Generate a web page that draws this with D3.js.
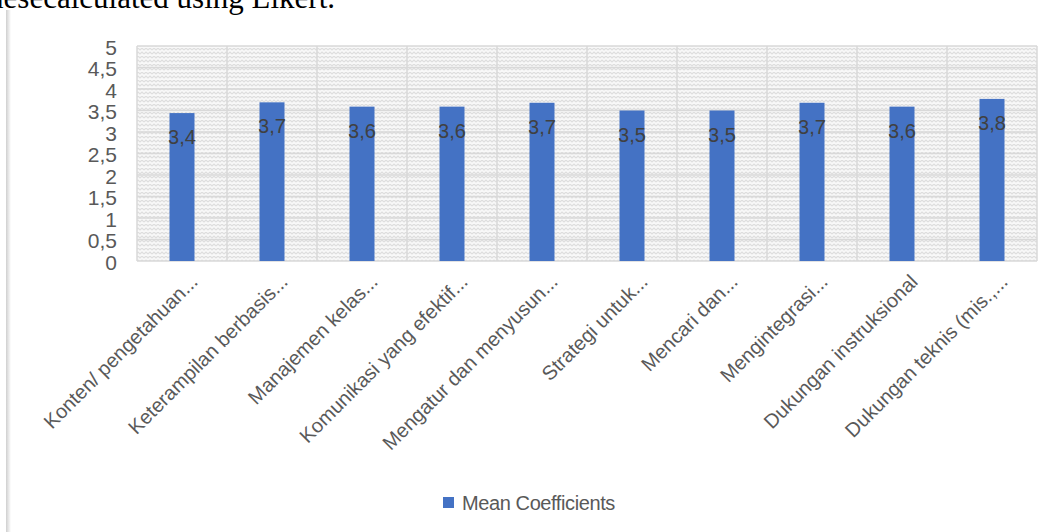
<!DOCTYPE html>
<html>
<head>
<meta charset="utf-8">
<script src="https://cdn.jsdelivr.net/npm/d3@7.9.0/dist/d3.min.js"></script>
<style>
  html, body { margin: 0; padding: 0; background: #fff; }
  svg { display: block; }
</style>
</head>
<body>
<svg id="chart" width="1051" height="532"></svg>
<script>
const categories = [
  'Konten/ pengetahuan...',
  'Keterampilan berbasis...',
  'Manajemen kelas...',
  'Komunikasi yang efektif...',
  'Mengatur dan menyusun...',
  'Strategi untuk...',
  'Mencari dan...',
  'Mengintegrasi...',
  'Dukungan instruksional',
  'Dukungan teknis (mis.,...'
];
const meanValues = [3.44, 3.69, 3.59, 3.59, 3.68, 3.5, 3.5, 3.68, 3.59, 3.77];
const yTicks = [0, 0.5, 1, 1.5, 2, 2.5, 3, 3.5, 4, 4.5, 5];
const seriesName = 'Mean Coefficients';

const svg = d3.select('#chart');
const plot = { left: 137, right: 1037, top: 46, bottom: 261 };

const x = d3.scaleBand().domain(categories).range([plot.left, plot.right]);
const y = d3.scaleLinear().domain([0, 5]).range([plot.bottom, plot.top]);
const comma = (v) => String(v).replace('.', ',');

// patterned plot background
const defs = svg.append('defs');
const pat = defs.append('pattern')
  .attr('id', 'weave')
  .attr('patternUnits', 'userSpaceOnUse')
  .attr('width', 8).attr('height', 8);
pat.append('rect').attr('width', 8).attr('height', 8).attr('fill', '#f8f8f8');
pat.append('path')
  .attr('d', 'M0,6 L2,4 L4,6 L6,4 L8,6 M0,2 L2,0 L4,2 L6,0 L8,2')
  .attr('fill', 'none').attr('stroke', '#dedede').attr('stroke-width', 1.2);

const grad = defs.append('linearGradient').attr('id', 'edge').attr('x1', 0).attr('x2', 1);
grad.append('stop').attr('offset', 0).attr('stop-color', '#cfcfcf');
grad.append('stop').attr('offset', 1).attr('stop-color', '#ffffff');

// page edge shadow on the left
svg.append('rect').attr('x', 6).attr('y', 10).attr('width', 5).attr('height', 522)
  .attr('fill', 'url(#edge)');

// cut-off text of the surrounding document
svg.append('text')
  .attr('x', 335).attr('y', 8)
  .attr('text-anchor', 'end')
  .attr('font-family', 'Liberation Serif')
  .attr('font-size', 31)
  .attr('fill', '#000')
  .text('Thesecalculated using Likert.');

svg.append('rect')
  .attr('x', plot.left).attr('y', plot.top)
  .attr('width', plot.right - plot.left).attr('height', plot.bottom - plot.top)
  .attr('fill', 'url(#weave)');

// grid
svg.append('g').selectAll('line').data(yTicks).join('line')
  .attr('x1', plot.left).attr('x2', plot.right)
  .attr('y1', (d) => y(d)).attr('y2', (d) => y(d))
  .attr('stroke', '#d9d9d9').attr('stroke-width', 1.5);

const bounds = categories.map((c) => x(c)).concat([plot.right]);
svg.append('g').selectAll('line').data(bounds).join('line')
  .attr('x1', (d) => d).attr('x2', (d) => d)
  .attr('y1', plot.top).attr('y2', plot.bottom)
  .attr('stroke', '#d9d9d9').attr('stroke-width', 1.5);

// y axis labels
svg.append('g').selectAll('text').data(yTicks).join('text')
  .attr('x', 117).attr('y', (d) => y(d) + 1)
  .attr('text-anchor', 'end')
  .attr('dominant-baseline', 'central')
  .attr('font-family', 'Liberation Sans')
  .attr('font-size', 21)
  .attr('fill', '#595959')
  .text((d) => comma(d));

// bars
const barW = 25;
svg.append('g').selectAll('rect').data(meanValues).join('rect')
  .attr('x', (d, i) => x(categories[i]) + x.bandwidth() / 2 - barW / 2)
  .attr('y', (d) => y(d))
  .attr('width', barW)
  .attr('height', (d) => y(0) - y(d))
  .attr('fill', '#4472c4');

// data labels
svg.append('g').selectAll('text').data(meanValues).join('text')
  .attr('x', (d, i) => x(categories[i]) + x.bandwidth() / 2)
  .attr('y', (d) => y(d) + 24)
  .attr('text-anchor', 'middle')
  .attr('dominant-baseline', 'central')
  .attr('font-family', 'Liberation Sans')
  .attr('font-size', 20)
  .attr('fill', '#404040')
  .text((d) => comma(d3.format('.1f')(d)));

// x labels
svg.append('g').selectAll('text').data(categories).join('text')
  .attr('transform', (d) => `translate(${x(d) + x.bandwidth() / 2 + 17},${283}) rotate(-45)`)
  .attr('text-anchor', 'end')
  .attr('font-family', 'Liberation Sans')
  .attr('font-size', 20)
  .attr('fill', '#595959')
  .text((d) => d);

// legend
svg.append('rect').attr('x', 443).attr('y', 497).attr('width', 11).attr('height', 11)
  .attr('fill', '#4472c4');
svg.append('text')
  .attr('x', 462).attr('y', 503)
  .attr('dominant-baseline', 'central')
  .attr('font-family', 'Liberation Sans')
  .attr('font-size', 20)
  .attr('letter-spacing', -0.4)
  .attr('fill', '#595959')
  .text(seriesName);
</script>
</body>
</html>
